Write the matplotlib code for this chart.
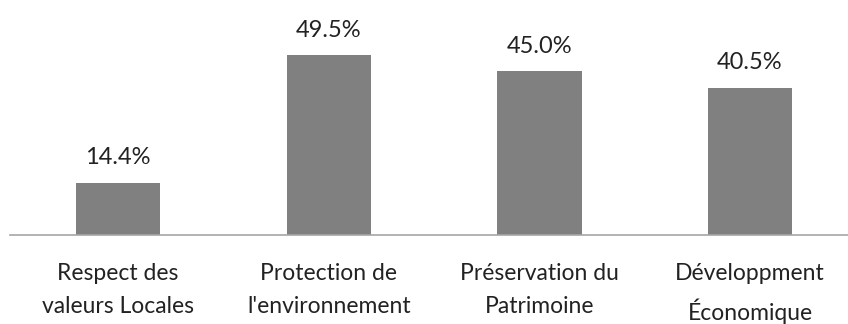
import numpy as np
import matplotlib.pyplot as plt

plt.rcParams['font.family'] = ['Lato', 'DejaVu Sans']

categories = ["Respect des\nvaleurs Locales", "Protection de\nl'environnement",
              "Préservation du\nPatrimoine", "Développment\nÉconomique"]
values = [14.4, 49.5, 45.0, 40.5]
value_labels = ["14.4%", "49.5%", "45.0%", "40.5%"]

fig = plt.figure(figsize=(8.48, 3.24), dpi=100)
ax = fig.add_axes([10 / 848, 89 / 324, 838 / 848, 235 / 324])

x = np.arange(len(categories))
bars = ax.bar(x, values, width=0.40, color="#808080")

# pourcentage au-dessus de chaque barre
for bar, lab in zip(bars, value_labels):
    ax.text(bar.get_x() + bar.get_width() / 2, bar.get_height() + 5.0, lab,
            ha="center", va="baseline", fontsize=17, color="#222222")

ax.set_xlim(-0.513, 3.465)
ax.set_ylim(0, 64.6)
ax.set_xticks(x)
ax.set_xticklabels(categories, fontsize=16.5, color="#222222", linespacing=1.7)
ax.tick_params(axis="x", length=0, pad=20)
ax.set_yticks([])

for s in ["top", "right", "left"]:
    ax.spines[s].set_visible(False)
ax.spines["bottom"].set_color("#a6a6a6")
ax.spines["bottom"].set_linewidth(1.2)

fig.savefig("out.png", dpi=100)
